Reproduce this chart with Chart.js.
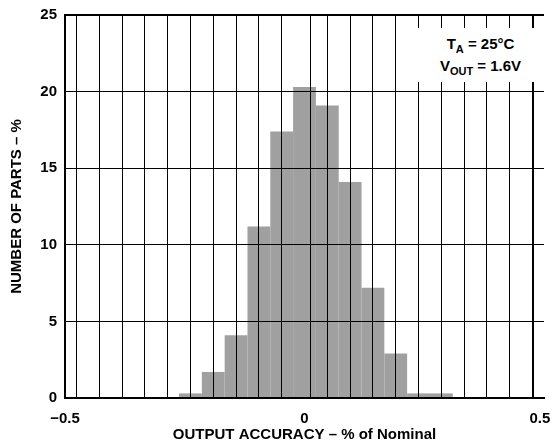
<!DOCTYPE html>
<html>
<head>
<meta charset="utf-8">
<script src="https://cdn.jsdelivr.net/npm/chart.js@4/dist/chart.umd.min.js"></script>
<style>
  html, body { margin: 0; padding: 0; background: #fff; }
  #wrap { position: relative; width: 553px; height: 446px; }
  #c { position: absolute; left: 0; top: 0; }
  #note {
    position: absolute; left: 418px; top: 28px; width: 125px; height: 54px;
    background: #fff; text-align: center;
    font-family: "Liberation Sans", Arial, sans-serif; font-weight: bold; font-size: 15px;
    line-height: 22px; padding-top: 5px; box-sizing: border-box; color: #000;
  }
  #note sub { font-size: 11px; line-height: 0; vertical-align: -4px; }
</style>
</head>
<body>
<div id="wrap">
  <canvas id="c" width="553" height="446"></canvas>
  <div id="note">T<sub>A</sub> = 25°C<br>V<sub>OUT</sub> = 1.6V</div>
</div>
<script>
// Bin centres (% of nominal) and percentage of parts in each bin
const binCenters = [-0.5, -0.45, -0.4, -0.35, -0.3, -0.25, -0.2, -0.15, -0.1, -0.05, 0,
                    0.05, 0.1, 0.15, 0.2, 0.25, 0.3, 0.35, 0.4, 0.45, 0.5];
const partsPercent = [0, 0, 0, 0, 0, 0.3, 1.7, 4.1, 11.2, 17.4, 20.3,
                      19.1, 14.1, 7.2, 2.9, 0.3, 0.3, 0, 0, 0, 0];
const binWidth = 0.05;
const xTickLabels = ['\u22120.5', '0', '0.5  '];
const yTickValues = [0, 5, 10, 15, 20, 25];

const xTitle = 'OUTPUT ACCURACY \u2013 % of Nominal';
const yTitle = 'NUMBER OF PARTS \u2013 %';

const binEdges = binCenters.map(c => +(c - binWidth / 2).toFixed(4));
binEdges.push(+(binCenters[binCenters.length - 1] + binWidth / 2).toFixed(4));
const xMin = binEdges[0], xMax = binEdges[binEdges.length - 1];
const xLabelAt = [xMin, 0, xMax];

const FONT = '"Liberation Sans", Arial, sans-serif';
const near = (a, b) => Math.abs(a - b) < 1e-6;

// redraw the library's own grid lines and axis borders above the bars
const gridOnTop = {
  id: 'gridOnTop',
  afterDatasetsDraw(chart) {
    Object.values(chart.scales).forEach(s => {
      s.drawGrid(chart.chartArea);
      if (s.drawBorder) s.drawBorder();
    });
  }
};

new Chart(document.getElementById('c'), {
  type: 'bar',
  data: {
    datasets: [{
      data: binCenters.map((x, i) => ({ x: x, y: partsPercent[i] })),
      backgroundColor: '#a0a0a0',
      borderWidth: 0,
      barPercentage: 1.0,
      // the extra "0" label tick halves the minimum tick spacing, so 2.0 = one full bin
      categoryPercentage: 2.0
    }]
  },
  plugins: [gridOnTop],
  options: {
    responsive: false,
    devicePixelRatio: 1,
    animation: false,
    layout: { padding: { left: 0, top: 15, right: 9, bottom: 0 } },
    plugins: { legend: { display: false }, tooltip: { enabled: false } },
    scales: {
      x: {
        type: 'linear',
        min: xMin, max: xMax,
        offset: false,
        afterBuildTicks: (s) => {
          const vals = binEdges.concat([0]).sort((a, b) => a - b);
          s.ticks = vals.map(v => ({ value: v }));
        },
        afterFit: (s) => { s.height = 48; s.paddingLeft = 0; s.paddingRight = 0; },
        ticks: {
          autoSkip: false, maxRotation: 0, padding: 12, color: '#000',
          font: { family: FONT, size: 15, weight: 'bold' },
          callback: (v) => {
            for (let i = 0; i < xLabelAt.length; i++) if (near(v, xLabelAt[i])) return xTickLabels[i];
            return '';
          }
        },
        grid: {
          z: 1, drawTicks: false,
          color: (ctx) => (ctx.tick && near(ctx.tick.value, 0)) ? 'rgba(0,0,0,0)' : '#000',
          lineWidth: (ctx) => (ctx.tick && (near(ctx.tick.value, xMin) || near(ctx.tick.value, xMax))) ? 2 : 1
        },
        border: { display: true, color: '#000', width: 2, z: 1 },
        title: {
          display: true, text: xTitle, color: '#000',
          font: { family: FONT, size: 15, weight: 'bold' },
          padding: { top: 0, bottom: 2 }
        }
      },
      y: {
        min: 0, max: 25,
        afterBuildTicks: (s) => { s.ticks = yTickValues.map(v => ({ value: v })); },
        afterFit: (s) => { s.width = 65; s.paddingTop = 0; s.paddingBottom = 0; },
        ticks: {
          padding: 8, color: '#000',
          font: { family: FONT, size: 15, weight: 'bold' }
        },
        grid: {
          z: 1, drawTicks: false, color: '#000',
          lineWidth: (ctx) => (ctx.tick && ctx.tick.value === 25) ? 2 : 1
        },
        border: { display: true, color: '#000', width: 2, z: 1 },
        title: {
          display: true, text: yTitle, color: '#000',
          font: { family: FONT, size: 15, weight: 'bold' },
          padding: { top: 8, bottom: 0 }
        }
      }
    }
  }
});
</script>
</body>
</html>
